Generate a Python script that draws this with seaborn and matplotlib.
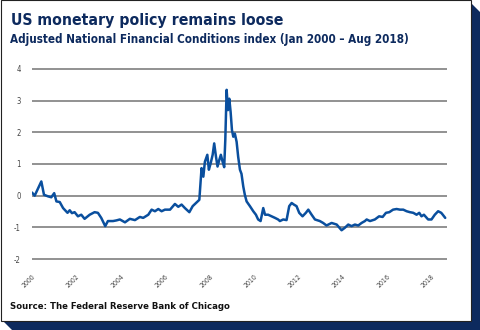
import matplotlib
matplotlib.use("Agg")
import matplotlib.pyplot as plt
from matplotlib.patches import Polygon, Rectangle
import seaborn as sns
import pandas as pd

years = [2000.00, 2000.12, 2000.42, 2000.54, 2000.72, 2000.87, 2001.00, 2001.10, 2001.25, 2001.40,
         2001.60, 2001.70, 2001.80, 2001.92, 2002.07, 2002.22, 2002.37, 2002.60, 2002.82, 2002.97,
         2003.12, 2003.30, 2003.42, 2003.65, 2003.80, 2003.96, 2004.19, 2004.41, 2004.64, 2004.86,
         2005.01, 2005.24, 2005.39, 2005.54, 2005.69, 2005.84, 2005.99, 2006.22, 2006.44, 2006.59,
         2006.74, 2006.89, 2007.09, 2007.24, 2007.39, 2007.54, 2007.64, 2007.72, 2007.79, 2007.90,
         2007.97, 2008.05, 2008.14, 2008.21, 2008.29, 2008.36, 2008.44, 2008.51, 2008.59, 2008.66,
         2008.71, 2008.77, 2008.83, 2008.89, 2008.95, 2009.01, 2009.07, 2009.14, 2009.22, 2009.29,
         2009.37, 2009.44, 2009.52, 2009.59, 2009.67, 2009.82, 2009.97, 2010.09, 2010.19, 2010.30,
         2010.42, 2010.50, 2010.64, 2010.80, 2010.95, 2011.09, 2011.17, 2011.32, 2011.47, 2011.59,
         2011.70, 2011.80, 2011.92, 2012.04, 2012.19, 2012.34, 2012.45, 2012.60, 2012.75, 2012.97,
         2013.12, 2013.27, 2013.50, 2013.73, 2013.95, 2014.10, 2014.25, 2014.40, 2014.55, 2014.70,
         2014.85, 2015.00, 2015.08, 2015.23, 2015.45, 2015.64, 2015.80, 2015.95, 2016.10, 2016.27,
         2016.43, 2016.58, 2016.73, 2016.88, 2017.03, 2017.18, 2017.33, 2017.45, 2017.55, 2017.66,
         2017.85, 2018.00, 2018.15, 2018.30, 2018.44, 2018.51, 2018.62]
anfci = [0.10, 0.00, 0.45, 0.03, -0.02, -0.05, 0.08, -0.18, -0.20, -0.39,
         -0.54, -0.46, -0.55, -0.52, -0.65, -0.60, -0.73, -0.60, -0.52, -0.54,
         -0.70, -0.96, -0.80, -0.80, -0.78, -0.75, -0.84, -0.73, -0.77, -0.67,
         -0.70, -0.60, -0.44, -0.49, -0.42, -0.49, -0.44, -0.44, -0.26, -0.35,
         -0.28, -0.39, -0.52, -0.33, -0.23, -0.13, 0.87, 0.60, 1.07, 1.29,
         0.82, 1.02, 1.29, 1.65, 1.23, 0.92, 1.13, 1.29, 1.07, 0.90,
         1.76, 3.34, 2.70, 3.06, 2.64, 2.07, 1.86, 1.96, 1.70, 1.23,
         0.82, 0.69, 0.29, 0.03, -0.18, -0.33, -0.49, -0.60, -0.75, -0.80,
         -0.39, -0.60, -0.60, -0.65, -0.70, -0.75, -0.80, -0.75, -0.77, -0.33,
         -0.23, -0.28, -0.33, -0.54, -0.65, -0.54, -0.44, -0.60, -0.75, -0.80,
         -0.86, -0.94, -0.86, -0.91, -1.09, -1.01, -0.91, -0.96, -0.91, -0.94,
         -0.86, -0.80, -0.75, -0.80, -0.75, -0.65, -0.67, -0.54, -0.52, -0.44,
         -0.42, -0.44, -0.44, -0.49, -0.52, -0.54, -0.60, -0.54, -0.65, -0.60,
         -0.75, -0.75, -0.60, -0.49, -0.54, -0.60, -0.70]

y_ticks = [-2, -1, 0, 1, 2, 3, 4]
x_ticks = [2000, 2002, 2004, 2006, 2008, 2010, 2012, 2014, 2016, 2018]

title = "US monetary policy remains loose"
subtitle = "Adjusted National Financial Conditions index (Jan 2000 \u2013 Aug 2018)"
source = "Source: The Federal Reserve Bank of Chicago"

sns.set_style("white")
plt.rcParams["font.family"] = ["DejaVu Sans"]
plt.rcParams["font.stretch"] = "condensed"

navy = "#0d2a5e"
line_c = "#0a4f9e"

fig = plt.figure(figsize=(4.8, 3.3), dpi=100)
W, H = 480, 330

def fx(px):
    return px / W

def fy(py):
    return 1 - py / H

# shadow
shadow = Polygon([(fx(471), fy(3)), (fx(480), fy(12)), (fx(480), fy(330)),
                  (fx(12), fy(330)), (fx(3), fy(321)), (fx(471), fy(321))],
                 closed=True, transform=fig.transFigure, facecolor=navy, edgecolor="none", zorder=0)
fig.patches.append(shadow)
card = Rectangle((fx(0.5), fy(321)), fx(470.5), fy(0.5) - fy(321), transform=fig.transFigure,
                 facecolor="white", edgecolor="#222222", linewidth=0.8, zorder=1)
fig.patches.append(card)

ax = fig.add_axes([fx(32), fy(261), fx(447) - fx(32), fy(67) - fy(261)])
ax.set_zorder(5)
ax.set_facecolor("none")
ax.patch.set_alpha(0)
df = pd.DataFrame({"year": years, "value": anfci})
sns.lineplot(data=df, x="year", y="value", ax=ax, color=line_c, linewidth=1.8, zorder=3)

ax.set_xlim(2000, 2018.7)
ax.set_ylim(-2.06, 4.06)
ax.set_yticks(y_ticks)
ax.set_yticklabels([str(v) for v in y_ticks], fontsize=5.5, color="#444444")
ax.set_xticks(x_ticks)
ax.set_xticklabels([str(v) for v in x_ticks], fontsize=5, color="#444444", rotation=45,
                   ha="right", rotation_mode="anchor")
ax.tick_params(axis="y", length=0, pad=8)
ax.tick_params(axis="x", length=0, pad=9)
ax.grid(axis="y", color="#7f7f7f", linewidth=1.2)
ax.grid(axis="x", visible=False)
for s in ax.spines.values():
    s.set_visible(False)
ax.set_xlabel("")
ax.set_ylabel("")

fig.text(fx(11), fy(25), title, fontsize=11.3, fontweight="bold", color=navy, va="baseline", zorder=5)
fig.text(fx(10), fy(43), subtitle, fontsize=8.4, fontweight="bold", color=navy, va="baseline", zorder=5)
fig.text(fx(10), fy(309), source, fontsize=6.8, fontweight="bold", color="#111111", va="baseline", zorder=5)

fig.savefig("out.png", dpi=100)
